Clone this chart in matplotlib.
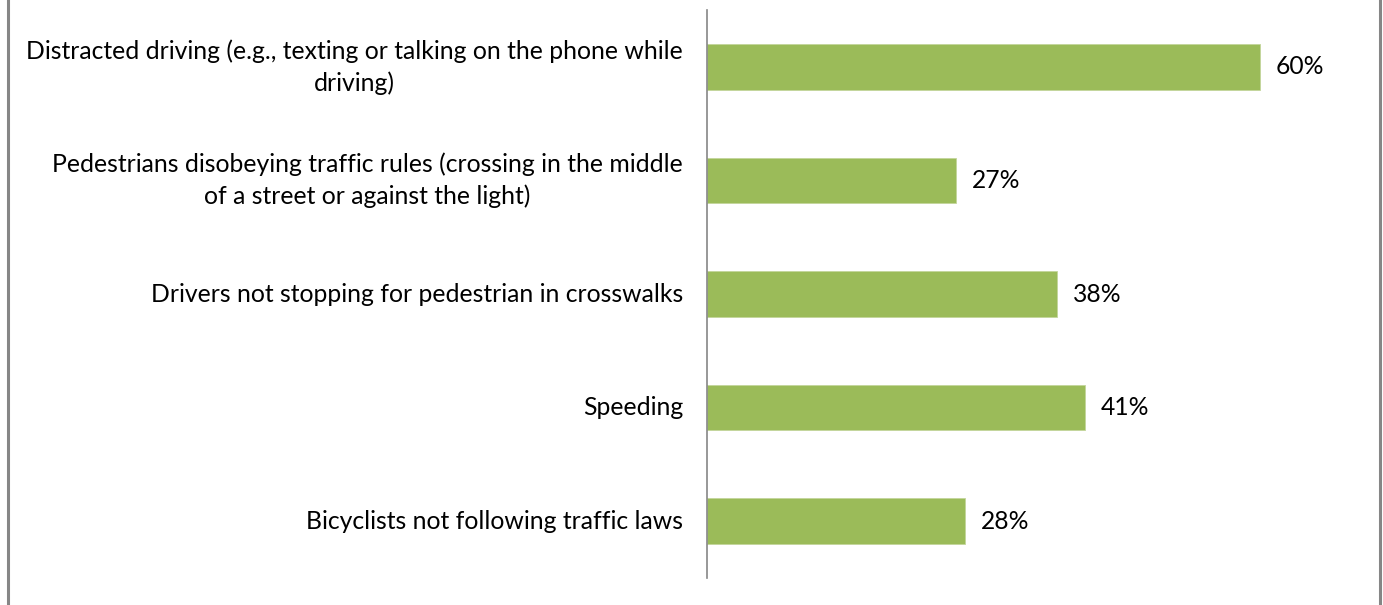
import matplotlib.pyplot as plt

categories = [
    "Distracted driving (e.g., texting or talking on the phone while\ndriving)",
    "Pedestrians disobeying traffic rules (crossing in the middle\nof a street or against the light)",
    "Drivers not stopping for pedestrian in crosswalks",
    "Speeding",
    "Bicyclists not following traffic laws",
]
values = [60, 27, 38, 41, 28]
value_labels = ["60%", "27%", "38%", "41%", "28%"]

plt.rcParams['font.family'] = ['Lato', 'DejaVu Sans']

fig = plt.figure(figsize=(13.83, 6.05), dpi=100)
ax = fig.add_axes([707 / 1383, 27 / 605, 645 / 1383, 568 / 605])

pos = list(range(len(categories)))
ax.barh(pos, values, height=0.4, color="#9bbb59", edgecolor="#c3d69b", linewidth=0.6)
ax.set_ylim(len(categories) - 0.5, -0.5)
ax.set_xlim(0, 70)

for p, v, lab in zip(pos, values, value_labels):
    ax.text(v + 1.7, p, lab, va="center", ha="left", fontsize=17.7, color="black")

# category labels: block right-aligned to the axis, lines centred within it
for p, cat in zip(pos, categories):
    ax.text(-2.6, p, cat, va="center", ha="right", multialignment="center",
            fontsize=17.8, color="black", linespacing=1.42)

ax.set_yticks([])
ax.set_xticks([])
for s in ["top", "right", "bottom"]:
    ax.spines[s].set_visible(False)
ax.spines["left"].set_color("#868686")
ax.spines["left"].set_linewidth(1.2)

# outer chart border (left and right edges)
fig.add_artist(plt.Line2D([7.5 / 1383, 7.5 / 1383], [0, 1], color="#868686", lw=2.2))
fig.add_artist(plt.Line2D([1379.5 / 1383, 1379.5 / 1383], [0, 1], color="#868686", lw=2.2))

fig.savefig("out.png", dpi=100)
